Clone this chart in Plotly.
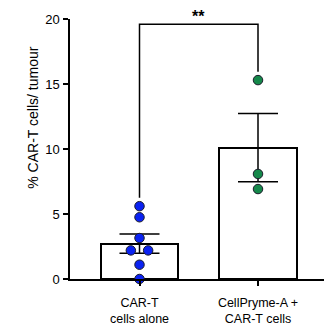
import numpy as np
import plotly.graph_objects as go

categories = ["CAR-T<br>cells alone", "CellPryme-A +<br>CAR-T cells"]
car_t_alone = [5.6, 4.75, 3.15, 2.2, 2.2, 1.1, 0.0]
cellpryme_car_t = [15.3, 8.08, 6.92]
point_colors = ["#0a22f2", "#15884a"]
y_ticks = [0, 5, 10, 15, 20]
y_title = "% CAR-T cells/ tumour"
sig_label = "**"

groups = [car_t_alone, cellpryme_car_t]
pos = np.arange(len(groups))
means = [float(np.mean(g)) for g in groups]
sems = [float(np.std(g, ddof=1) / np.sqrt(len(g))) for g in groups]

font = "Arial, Liberation Sans, sans-serif"
fig = go.Figure()

fig.add_trace(go.Bar(
    x=pos, y=means, width=0.65,
    marker=dict(color="white", line=dict(color="black", width=2)),
    hoverinfo="skip", showlegend=False,
))
fig.add_trace(go.Scatter(
    x=pos, y=means, mode="markers", marker=dict(size=0.1, color="black", opacity=0),
    error_y=dict(type="data", array=sems, visible=True, color="black", thickness=1.5, width=20),
    showlegend=False, hoverinfo="skip",
))

# simple swarm: spread identical values sideways
for i, g in enumerate(groups):
    xs = []
    vals = list(g)
    for j, v in enumerate(vals):
        same = [k for k, w in enumerate(vals) if abs(w - v) < 0.3]
        n = len(same)
        idx = same.index(j)
        off = (idx - (n - 1) / 2) * 0.146
        xs.append(pos[i] + off)
    fig.add_trace(go.Scatter(
        x=xs, y=vals, mode="markers",
        marker=dict(size=9.5, color=point_colors[i], line=dict(color="#1b1b2a", width=1)),
        showlegend=False, hoverinfo="skip", cliponaxis=False,
    ))

# significance bracket
bracket_top = 19.6
gap = 0.65
left_end = max(groups[0]) + gap
right_end = max(groups[1]) + gap
fig.add_trace(go.Scatter(
    x=[pos[0], pos[0], pos[1], pos[1]],
    y=[left_end, bracket_top, bracket_top, right_end],
    mode="lines", line=dict(color="black", width=1.5),
    showlegend=False, hoverinfo="skip", cliponaxis=False,
))
fig.add_annotation(
    x=(pos[0] + pos[1]) / 2, y=bracket_top, xref="x", yref="y",
    text="<b>" + sig_label + "</b>", showarrow=False, yanchor="bottom", yshift=-3,
    font=dict(family=font, size=16, color="black"),
)
fig.add_annotation(
    x=-0.146, y=0.62, xref="paper", yref="paper", text=y_title, textangle=-90,
    showarrow=False, xanchor="center", yanchor="middle",
    font=dict(family=font, size=14, color="black"),
)

fig.update_layout(
    width=326, height=332,
    margin=dict(l=70, r=2, t=19, b=53),
    plot_bgcolor="white", paper_bgcolor="white",
    font=dict(family=font, size=12, color="black"),
    bargap=0,
)
fig.update_xaxes(
    range=[-0.5865, 1.557], tickvals=list(pos), ticktext=categories,
    showline=True, linecolor="black", linewidth=1.5,
    ticks="outside", ticklen=5, tickcolor="black", tickwidth=1.5,
    showgrid=False, zeroline=False, tickfont=dict(size=12.5), ticklabelstandoff=6,
)
fig.update_yaxes(
    range=[0, 20], tickvals=y_ticks,
    showline=True, linecolor="black", linewidth=1.5,
    ticks="outside", ticklen=5, tickcolor="black", tickwidth=1.5,
    showgrid=False, zeroline=False, tickfont=dict(size=13), ticklabelstandoff=1,
)

fig.write_html("out.html", config={"displayModeBar": False},
               post_script="document.body.style.margin='0px';")
